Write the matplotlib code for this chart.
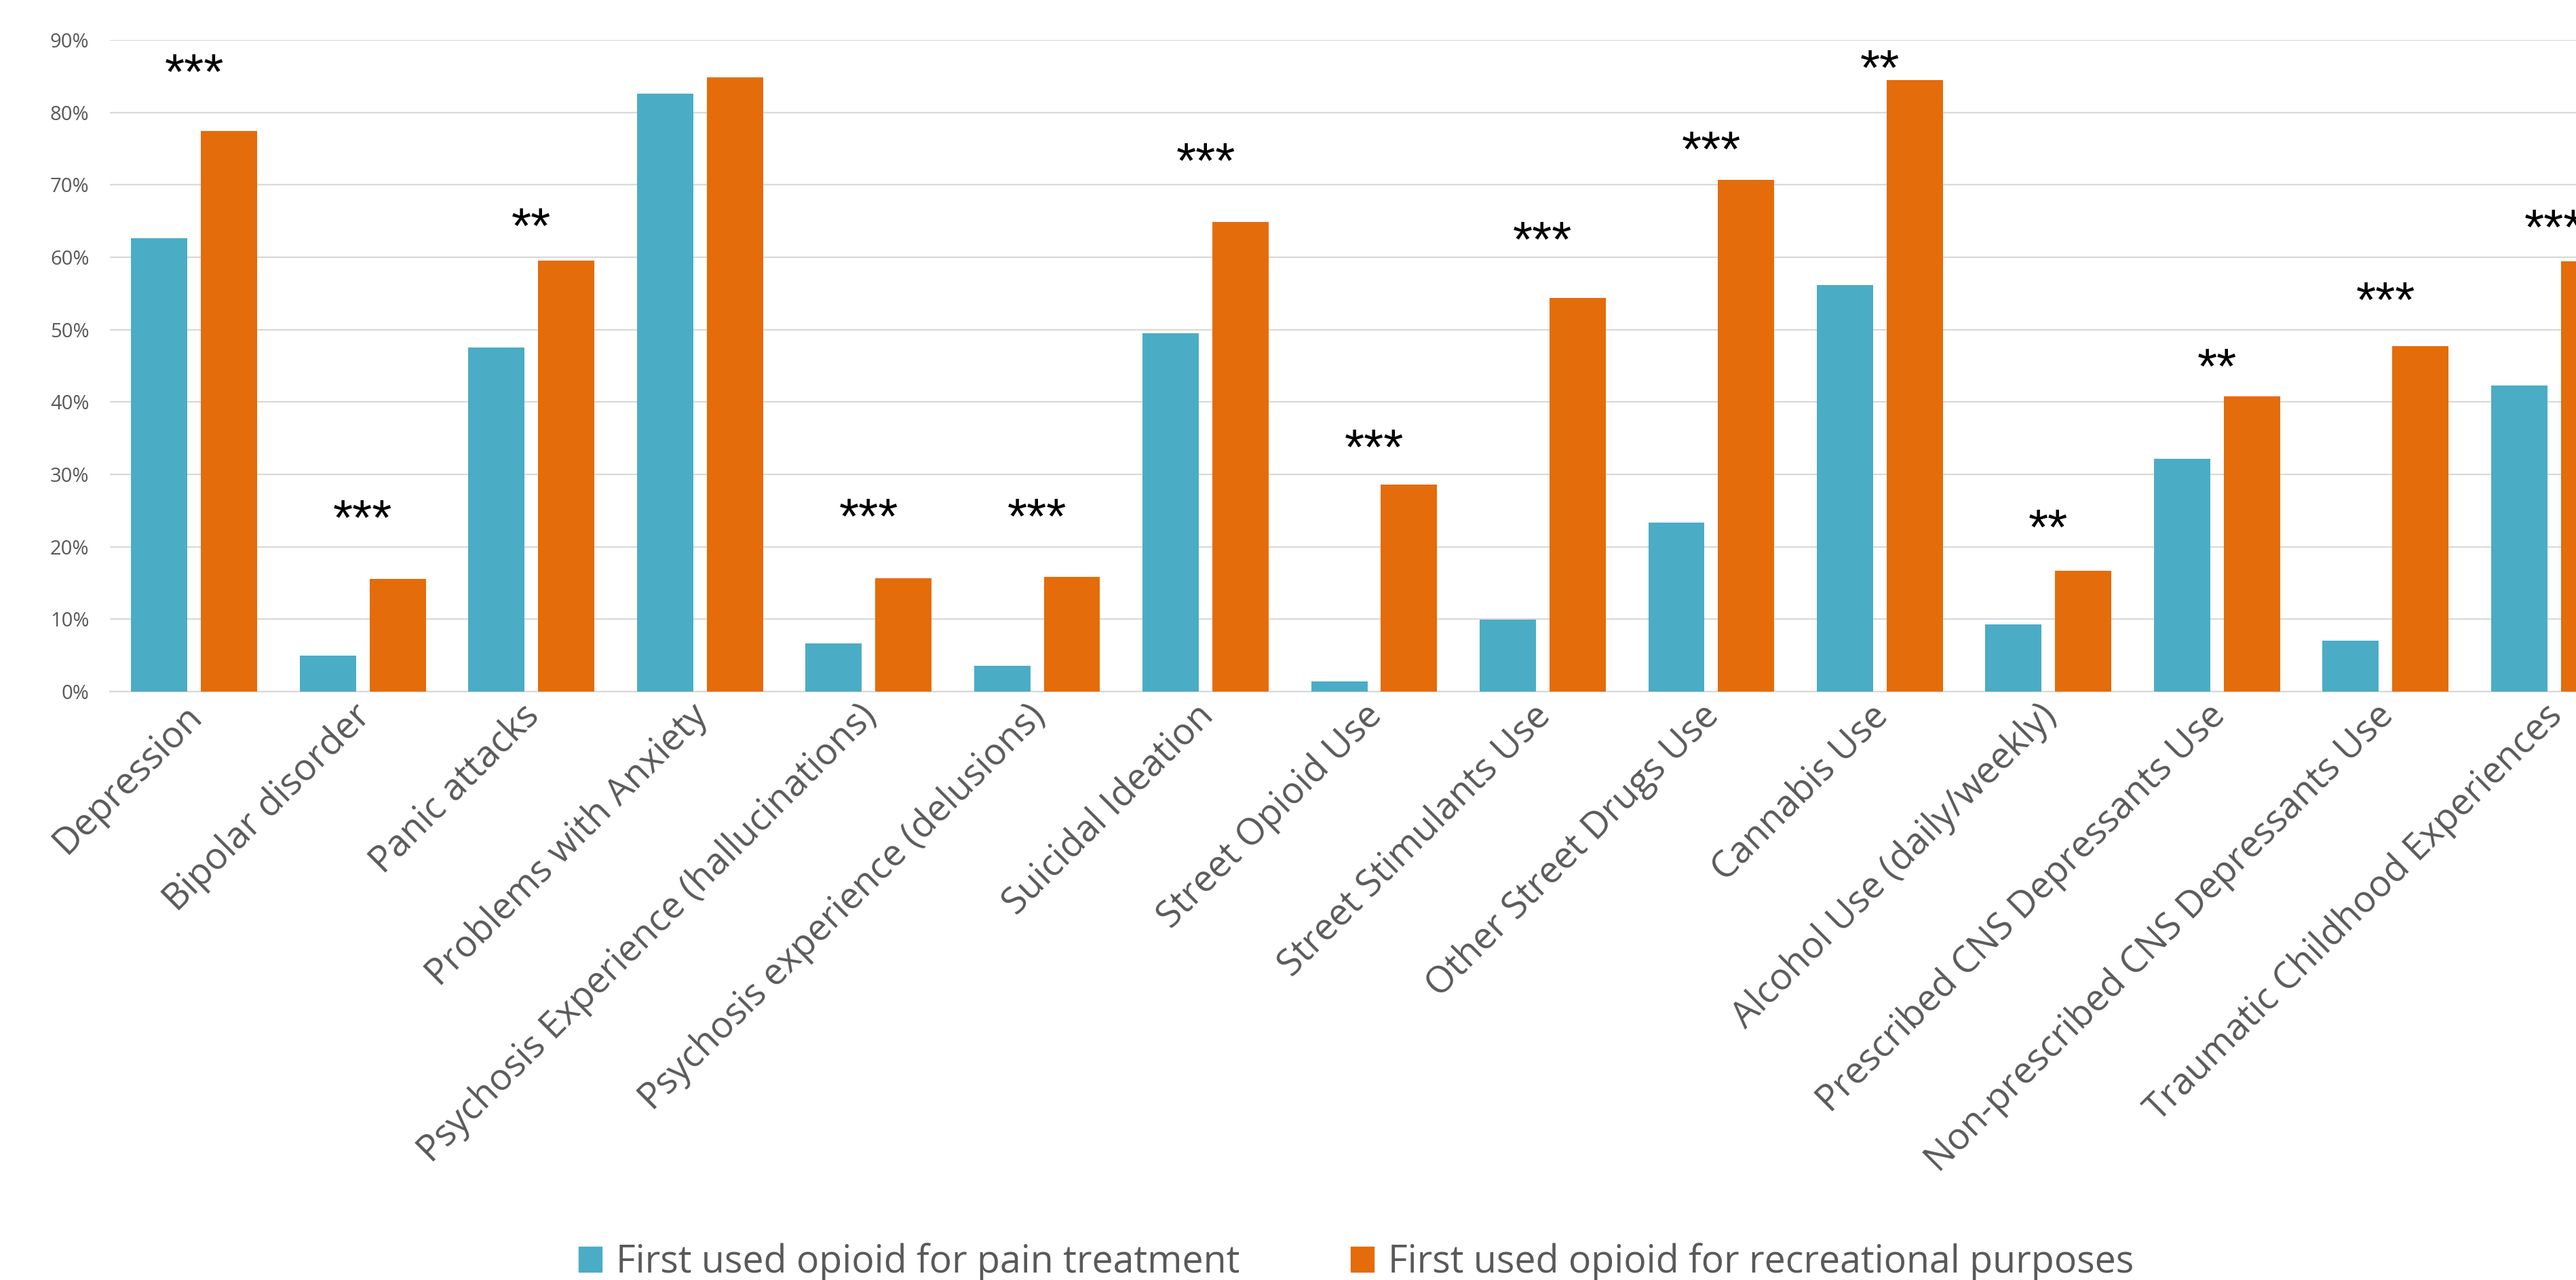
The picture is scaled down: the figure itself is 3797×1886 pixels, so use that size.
import matplotlib
matplotlib.use('Agg')
import matplotlib.pyplot as plt
import matplotlib.transforms as mtransforms
from matplotlib.patches import Patch
import numpy as np

categories = ['Depression', 'Bipolar disorder', 'Panic attacks', 'Problems with Anxiety',
              'Psychosis Experience (hallucinations)', 'Psychosis experience (delusions)',
              'Suicidal Ideation', 'Street Opioid Use', 'Street Stimulants Use',
              'Other Street Drugs Use', 'Cannabis Use', 'Alcohol Use (daily/weekly)',
              'Prescribed CNS Depressants Use', 'Non-prescribed CNS Depressants Use',
              'Traumatic Childhood Experiences']
pain = [0.626, 0.050, 0.475, 0.826, 0.067, 0.036, 0.495, 0.014, 0.099, 0.233,
        0.562, 0.093, 0.322, 0.070, 0.423]
recreational = [0.774, 0.156, 0.595, 0.848, 0.157, 0.158, 0.649, 0.286, 0.544, 0.707,
                0.845, 0.167, 0.408, 0.477, 0.594]
stars = ['***', '***', '**', '', '***', '***', '***', '***', '***', '***',
         '**', '**', '**', '***', '***']
# where the hand placed star labels sit (centre of the glyphs)
star_level = [0.868, 0.252, 0.655, 0, 0.254, 0.254, 0.745, 0.349, 0.636, 0.761,
              0.873, 0.239, 0.461, 0.553, 0.653]
series_names = ['First used opioid for pain treatment',
                'First used opioid for recreational purposes']

blue = '#4BACC6'
orange = '#E46C0A'
grey = '#595959'
font = 'Open Sans'

W, H = 3797, 1886
fig = plt.figure(figsize=(W / 100, H / 100), dpi=100)
ax = fig.add_axes([162 / W, 1 - 1019 / H, (3889 - 162) / W, (1019 - 59) / H])

x = np.arange(len(categories))
bw = 0.334
ax.bar(x - 0.207, pain, bw, color=blue, zorder=3)
ax.bar(x + 0.207, recreational, bw, color=orange, zorder=3)

star_fs = 54
for i, s in enumerate(stars):
    if s:
        ax.annotate(s, (x[i], star_level[i]), xytext=(0, -0.5 * star_fs),
                    textcoords='offset points', ha='center', va='baseline',
                    fontsize=star_fs, family='Liberation Sans', color='black', zorder=4)

ax.set_xlim(-0.5, len(categories) - 0.5)
ax.set_ylim(0, 0.9)
ax.set_yticks(np.arange(0, 0.91, 0.1))
ax.set_yticklabels([f'{int(round(v * 100))}%' for v in np.arange(0, 0.91, 0.1)],
                   fontsize=21, color=grey, family=font)
ax.yaxis.grid(True, color='#D9D9D9', linewidth=1.6, zorder=0)
ax.tick_params(axis='y', length=0, pad=22)
ax.tick_params(axis='x', length=0, pad=6)
ax.set_xticks(x)
ax.set_xticklabels(categories, rotation=45, ha='right', va='top', rotation_mode='anchor',
                   fontsize=39, color=grey, family=font)
shift = mtransforms.ScaledTranslation(-0.16, 0, fig.dpi_scale_trans)
for lab in ax.get_xticklabels():
    lab.set_transform(lab.get_transform() + shift)
for side in ['top', 'right', 'left']:
    ax.spines[side].set_visible(False)
ax.spines['bottom'].set_color('#D9D9D9')
ax.spines['bottom'].set_linewidth(1.6)

handles = [Patch(color=blue, label=series_names[0]),
           Patch(color=orange, label=series_names[1])]
fig.legend(handles=handles, loc='center', bbox_to_anchor=(0.5265, 0.0138), ncol=2,
           frameon=False, prop={'family': font, 'size': 40}, labelcolor=grey,
           handlelength=0.61, handleheight=0.65, handletextpad=0.38, columnspacing=2.95,
           borderpad=0, borderaxespad=0)

fig.savefig('out.png', dpi=100, facecolor='white')
